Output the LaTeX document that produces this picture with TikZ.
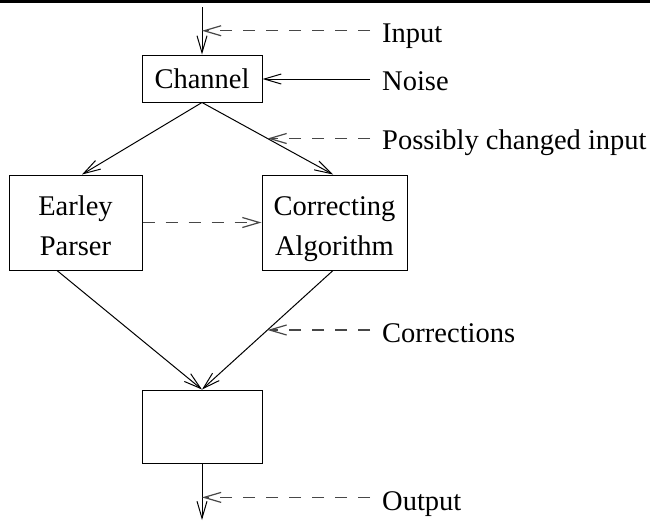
\documentclass[tikz,border=0pt]{standalone}
\usepackage{fontspec}
\setmainfont{Liberation Serif}
\usetikzlibrary{arrows.meta,calc}
\newcommand\bstrut{\rule[-7.5pt]{0pt}{40pt}}
\begin{document}
\begin{tikzpicture}[x=1pt,y=-1pt,
  every node/.style={font=\fontsize{28.5}{40}\selectfont},
  box/.style={draw,line width=1pt,inner sep=0pt,align=center},
  conn/.style={line width=1pt,-{Straight Barb[length=17pt,width=10pt]}},
  dconn/.style={conn,black!72,line width=1.2pt,dash pattern=on 12pt off 11pt},
  lab/.style={anchor=base west,inner sep=0pt}]
\useasboundingbox (0,0) rectangle (650,525);
\draw[line width=3pt] (0,1.5) -- (650,1.5);
% boxes
\node[box,minimum width=120pt,minimum height=47pt] (ch) at (202,78.5) {Channel};
\node[box,minimum width=133pt,minimum height=95pt] (ep) at (75.5,222.5) {Earley\bstrut\\Parser\bstrut};
\node[box,minimum width=145pt,minimum height=95pt] (ca) at (334.5,222.5) {Correcting\bstrut\\Algorithm\bstrut};
\node[box,minimum width=120pt,minimum height=73pt] (ob) at (202,426.5) {};
% labels
\node[lab] (lin) at (382,42) {Input};
\node[lab] (lno) at (382,90) {Noise};
\node[lab] (lpc) at (382,149) {Possibly changed input};
\node[lab] (lco) at (382,342) {Corrections};
\node[lab] (lou) at (382,510) {Output};
% main connectors
\coordinate (top) at (202,7);
\coordinate (bot) at (202,520);
\draw[conn] (top) -- (ch.north) coordinate[pos=0.5] (tin);
\draw[conn] (370,79) coordinate (nz) -- (nz -| ch.east);
\draw[conn] (ch.south) -- ([xshift=6.5pt]ep.north);
\draw[conn] (ch.south) -- ([xshift=-1.5pt]ca.north) coordinate[pos=0.5] (tpc);
\draw[dconn] (ep.east) -- (ca.west);
\draw[conn] ([xshift=-18.5pt]ep.south) -- (ob.north);
\draw[conn] ([xshift=-1.5pt]ca.south) -- (ob.north) coordinate[pos=0.5] (tco);
\draw[conn] (ob.south) -- (bot) coordinate[pos=0.6] (tou);
% label pointers
\coordinate (xr) at (370,0);
\draw[dconn] (xr |- tin) -- (tin);
\draw[dconn] (xr |- tpc) -- (tpc);
\draw[dconn] (xr |- tco) -- (tco);
\draw[dconn] (xr |- tou) -- (tou);
\end{tikzpicture}
\end{document}
